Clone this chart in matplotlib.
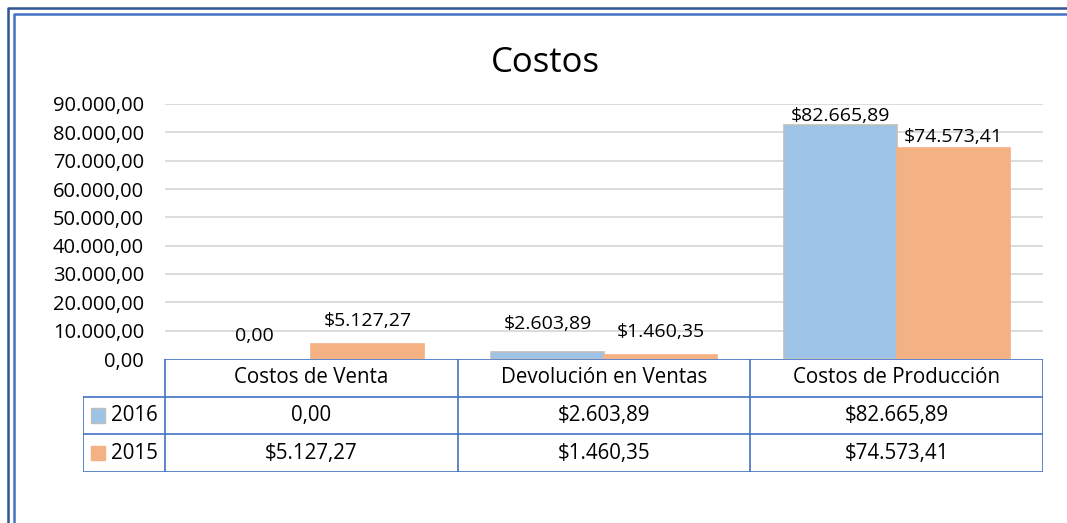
import matplotlib
matplotlib.use('Agg')
import matplotlib.pyplot as plt
from matplotlib.lines import Line2D
from matplotlib.patches import Rectangle

plt.rcParams['font.family'] = ['Open Sans', 'DejaVu Sans']

categories = ['Costos de Venta', 'Devolución en Ventas', 'Costos de Producción']
series_names = ['2016', '2015']
costs_2016 = [0.00, 2603.89, 82665.89]
costs_2015 = [5127.27, 1460.35, 74573.41]
y_ticks = [0, 10000, 20000, 30000, 40000, 50000, 60000, 70000, 80000, 90000]

colors = {'2016': '#9DC3E6', '2015': '#F4B183'}
edge_colors = {'2016': '#BFBFBF', '2015': '#F4B183'}
grid_color = '#D9D9D9'
table_color = '#4472C4'

W, H = 1067, 523


def fmt_es(v, currency=True):
    # 1234.5 -> 1.234,50 (Spanish style)
    s = f"{v:,.2f}".replace(',', 'X').replace('.', ',').replace('X', '.')
    if currency and v != 0:
        s = '$' + s
    return s


def px(x0, y0, x1, y1):
    # pixel box (top-left origin) -> figure fraction [left, bottom, width, height]
    return [x0 / W, 1 - y1 / H, (x1 - x0) / W, (y1 - y0) / H]


fig = plt.figure(figsize=(W / 100, H / 100), dpi=100)

# bar chart
ax = fig.add_axes(px(165, 104, 1043, 359))
bar_w = 0.386
series = {'2016': costs_2016, '2015': costs_2015}
label_pad = {'2016': [14, 19, 0], '2015': [14, 14, 2]}  # in pixels
for k, name in enumerate(series_names):
    offs = (k - 0.5) * bar_w
    for i, v in enumerate(series[name]):
        if v > 0:
            ax.bar(i + offs, v, width=bar_w, color=colors[name],
                   edgecolor=edge_colors[name], linewidth=1.2, zorder=2)
        ax.annotate(fmt_es(v), (i + offs, v), xytext=(0, label_pad[name][i] * 0.72),
                    textcoords='offset points', ha='center', va='bottom',
                    fontsize=14, color='black', zorder=3)

ax.set_xlim(-0.5, 2.5)
ax.set_ylim(0, 90000)
ax.set_yticks(y_ticks)
ax.set_yticklabels([fmt_es(t, currency=False) for t in y_ticks], fontsize=14.5)
ax.set_xticks([])
ax.tick_params(axis='y', length=0, pad=15)
for s in ax.spines.values():
    s.set_visible(False)
for t in y_ticks[1:]:
    ax.axhline(t, color=grid_color, linewidth=1.3, zorder=1)

# data table under the bars
tab = fig.add_axes(px(83, 359, 1043, 472))
legend_w = 82 / ((1043 - 165) / 3)
x_left = -0.5 - legend_w
tab.set_xlim(x_left, 2.5)
tab.set_ylim(3, 0)
tab.axis('off')

lw = 1.2
tab.plot([-0.5, 2.5], [0, 0], color=table_color, lw=lw)
for y in (1, 2, 3):
    tab.plot([x_left, 2.5], [y, y], color=table_color, lw=lw)
for x in (-0.5, 0.5, 1.5, 2.5):
    tab.plot([x, x], [0, 3], color=table_color, lw=lw)
tab.plot([x_left, x_left], [1, 3], color=table_color, lw=lw)

for i, c in enumerate(categories):
    tab.text(i, 0.5, c, ha='center', va='center', fontsize=14.8)
for r, name in enumerate(series_names):
    yc = 1.5 + r
    for i, v in enumerate(series[name]):
        tab.text(i, yc, fmt_es(v), ha='center', va='center', fontsize=14.8)
    sw = 14 / 292.67
    tab.add_patch(Rectangle((x_left + 8 / 292.67, yc - 0.19), sw, 0.38,
                            facecolor=colors[name], edgecolor=edge_colors[name],
                            linewidth=1.0))
    tab.text(x_left + 28 / 292.67, yc, name, ha='left', va='center', fontsize=14.8)

fig.suptitle('Costos', x=545 / W, y=1 - 63 / H, va='center', fontsize=25)

# double border around the chart
def border(off, color):
    x = off / W
    y = 1 - off / H
    fig.add_artist(Line2D([x, x, 1.0], [0.0, y, y], transform=fig.transFigure,
                          color=color, linewidth=1.8, solid_joinstyle='round'))

border(8, '#2F5597')
border(13.5, '#4472C4')

fig.savefig('out.png', dpi=100)
